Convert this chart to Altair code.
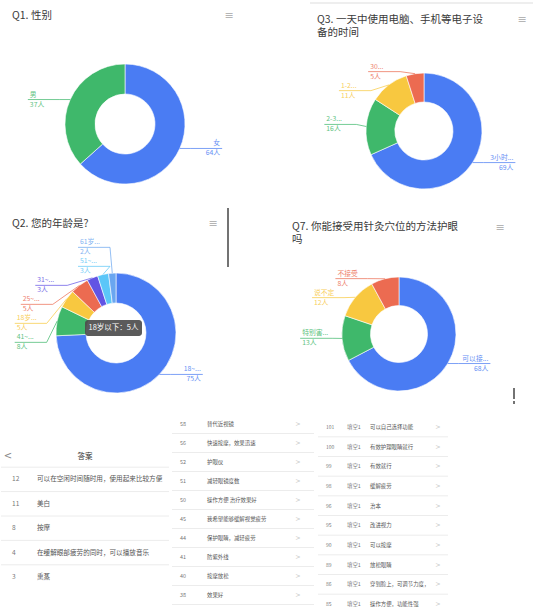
import altair as alt
import pandas as pd
import numpy as np

FONT = "Noto Sans CJK SC"

BLUE, GREEN, YELLOW, RED = "#4a7cf3", "#3fb86b", "#f8c840", "#ec6b51"
PURPLE, LBLUE, SBLUE = "#6254e4", "#5bc6f8", "#6aa6f0"

# ---------------- data ----------------
q1_title = ["Q1. 性别"]
q1_names = ["女", "男"]
q1_values = [64, 37]
q1_colors = [BLUE, GREEN]

q3_title = ["Q3. 一天中使用电脑、手机等电子设", "备的时间"]
q3_names = ["3小时...", "2-3...", "1-2...", "30..."]
q3_values = [69, 16, 11, 5]
q3_colors = [BLUE, GREEN, YELLOW, RED]

q2_title = ["Q2. 您的年龄是?"]
q2_names = ["18~...", "41~...", "18岁...", "25~...", "31~...", "51~...", "61岁..."]
q2_values = [75, 8, 5, 5, 3, 3, 2]
q2_colors = [BLUE, GREEN, YELLOW, RED, PURPLE, LBLUE, SBLUE]
q2_tooltip = "18岁以下：5人"

q7_title = ["Q7. 你能接受用针灸穴位的方法护眼", "吗"]
q7_names = ["可以接...", "特别害...", "说不定", "不接受"]
q7_values = [68, 13, 12, 8]
q7_colors = [BLUE, GREEN, YELLOW, RED]

t1_header = "答案"
t1_nums = ["12", "11", "8", "4", "3"]
t1_texts = ["可以在空闲时间随时用，使用起来比较方便", "美白", "按摩",
            "在缓解眼部疲劳的同时，可以播放音乐", "熏蒸"]

t2_nums = ["58", "56", "52", "51", "50", "45", "44", "41", "40", "38"]
t2_texts = ["替代近视镜", "快速按摩，效果迅速", "护眼仪", "减轻眼镜度数", "操作方便 治疗效果好",
            "我希望能够缓解视觉疲劳", "保护眼睛，减轻疲劳", "防紫外线", "按摩放松", "效果好"]

t3_nums = ["101", "100", "99", "98", "96", "95", "90", "89", "86", "85"]
t3_tags = ["填空1"] * 10
t3_texts = ["可以自己选择功能", "有效护理眼睛就行", "有效就行", "缓解疲劳", "治本",
            "改进视力", "可以按摩", "放松眼睛", "穿到脸上，可调节力度，", "操作方便，功能性强"]


# ---------------- helpers ----------------
def one(v):
    return pd.DataFrame({"t": [v]})


def text_at(s, x, y, size=10.5, color="#3a3a3a", align="left", font=FONT, weight="normal"):
    return alt.Chart(one(s)).mark_text(
        align=align, baseline="middle", fontSize=size, font=font, color=color, fontWeight=weight
    ).encode(text="t:N", x=alt.value(x), y=alt.value(y))


def vrule(x, y1, y2, color="#444", w=1.5):
    return alt.Chart(one(0)).mark_rule(color=color, strokeWidth=w).encode(
        x=alt.value(x), y=alt.value(y1), y2=alt.value(y2))


def hrule(x1, x2, y, color="#eee", w=1.5):
    return alt.Chart(one(0)).mark_rule(color=color, strokeWidth=w).encode(
        x=alt.value(x1), x2=alt.value(x2), y=alt.value(y))


def label_layout(names, values, colors, cx, cy, r, gap=19.0, balance=0.8, L2=6, W=32):
    v = np.asarray(values, float)
    tot = v.sum()
    mid = (np.cumsum(v) - v / 2) / tot * 2 * np.pi
    nat = cy - r * np.cos(mid)
    side = np.where(np.sin(mid) >= 0, 1, -1)
    ly = nat.copy()
    for s in (1, -1):
        idx = sorted([i for i in range(len(v)) if side[i] == s], key=lambda i: nat[i])
        if len(idx) < 2:
            continue
        last = -1e9
        pushed = []
        for i in idx:
            y = max(nat[i], last + gap)
            pushed.append(y)
            last = y
        pushed = np.array(pushed)
        shifts = pushed - nat[idx]
        ly[idx] = pushed - balance * shifts.mean()
    dy = ly - cy
    off = np.sqrt(np.clip((r + 4) ** 2 - dy ** 2, 0, None))
    xin = cx + side * (off + L2)
    xout = xin + side * W
    return pd.DataFrame(dict(
        name=names, col=colors, val=[f"{int(x)}人" for x in values], side=side,
        x0=cx + r * np.sin(mid), y0=cy - r * np.cos(mid),
        xin=xin, xout=xout, ly=ly, tx=xout - side * 2, ny=ly - 5, vy=ly + 5))


def px(field):
    return alt.X(field, type="quantitative", scale=None, axis=None)


def py(field):
    return alt.Y(field, type="quantitative", scale=None, axis=None)


COLOR = alt.Color("col:N", scale=None, legend=None)


def donut(names, values, colors, cx, cy, r, title, tx, ty, menu, lh=13):
    df = pd.DataFrame({"name": names, "value": values, "col": colors,
                       "idx": list(range(len(names)))})
    arcs = alt.Chart(df).mark_arc(innerRadius=r * 0.5, outerRadius=r, stroke="#ffffff",
                                  strokeWidth=0.6).encode(
        theta=alt.Theta("value:Q", stack=True), color=COLOR,
        order=alt.Order("idx:Q", sort="ascending"), x=alt.value(cx), y=alt.value(cy))
    lab = label_layout(names, values, colors, cx, cy, r)
    base = alt.Chart(lab)
    leader = base.mark_rule(strokeWidth=0.9, opacity=0.8).encode(
        x=px("x0"), y=py("y0"), x2="xin:Q", y2="ly:Q", color=COLOR)
    hr = base.mark_rule(strokeWidth=0.9, opacity=0.8).encode(
        x=px("xin"), x2="xout:Q", y=py("ly"), color=COLOR)
    texts = []
    for s, al in ((1, "right"), (-1, "left")):
        sub = base.transform_filter(f"datum.side == {s}")
        texts.append(sub.mark_text(align=al, baseline="middle", fontSize=6.8, font=FONT,
                                   opacity=0.85).encode(x=px("tx"), y=py("ny"), text="name:N", color=COLOR))
        texts.append(sub.mark_text(align=al, baseline="middle", fontSize=6.8, font=FONT,
                                   opacity=0.85).encode(x=px("tx"), y=py("vy"), text="val:N", color=COLOR))
    layers = [arcs, leader, hr] + texts
    for k, line in enumerate(title):
        layers.append(text_at(line, tx, ty + lh * k))
    layers.append(text_at("≡", menu[0], menu[1], size=11, color="#b5b5b5", align="center",
                          font="DejaVu Sans"))
    return layers


# ---------------- panels ----------------
q1 = alt.layer(*donut(q1_names, q1_values, q1_colors, 125, 124, 60, q1_title, 12, 16,
                      (229, 16))).properties(width=267, height=200)

q3_layers = donut(q3_names, q3_values, q3_colors, 157, 131, 58, q3_title, 50, 20, (255, 20))
q3_layers.insert(0, hrule(43, 266, 3, color="#eeeeee", w=2))
q3 = alt.layer(*q3_layers).properties(width=267, height=200)

q2_layers = donut(q2_names, q2_values, q2_colors, 116, 133, 60, q2_title, 12, 24, (213, 24))
q2_layers.append(alt.Chart(one(0)).mark_rect(color="#4d4d4d", opacity=0.92, cornerRadius=3).encode(
    x=alt.value(85), x2=alt.value(142), y=alt.value(120), y2=alt.value(136)))
q2_layers.append(text_at(q2_tooltip, 113.5, 128, size=7.5, color="#ffffff", align="center"))
q2_layers.append(vrule(228, 8, 67))
q2 = alt.layer(*q2_layers).properties(width=267, height=200)

q7_layers = donut(q7_names, q7_values, q7_colors, 132, 134, 57, q7_title, 25, 27, (233, 28), lh=13)
q7_layers.append(vrule(247, 188, 199))
q7 = alt.layer(*q7_layers).properties(width=267, height=200)


def table(nums, texts, domain, rng, num_x, text_x, sep_x, size, chevron_x=None, tags=None, tag_x=None,
          seps=None, num_size=None):
    n = len(nums)
    df = pd.DataFrame({"pos": list(range(n)), "num": nums, "txt": texts})
    if tags is not None:
        df["tag"] = tags
    ysc = alt.Scale(domain=domain, range=rng, nice=False, zero=False)
    Y = alt.Y("pos:Q", scale=ysc, axis=None)
    layers = []
    sep_df = pd.DataFrame({"pos": seps})
    layers.append(alt.Chart(sep_df).mark_rule(color="#ececec", strokeWidth=1).encode(
        y=Y, x=alt.value(sep_x[0]), x2=alt.value(sep_x[1])))
    base = alt.Chart(df)
    layers.append(base.mark_text(align="left", baseline="middle", fontSize=num_size or size,
                                 font=FONT, color="#777").encode(y=Y, x=alt.value(num_x), text="num:N"))
    if tags is not None:
        layers.append(base.mark_text(align="left", baseline="middle", fontSize=size, font=FONT,
                                     color="#777").encode(y=Y, x=alt.value(tag_x), text="tag:N"))
    layers.append(base.mark_text(align="left", baseline="middle", fontSize=size, font=FONT,
                                 color="#555").encode(y=Y, x=alt.value(text_x), text="txt:N"))
    if chevron_x is not None:
        layers.append(base.mark_text(align="center", baseline="middle", fontSize=size + 1,
                                     font="DejaVu Sans", color="#c4c4c4").encode(
            y=Y, x=alt.value(chevron_x), text=alt.value(">")))
    return layers


t1_layers = table(t1_nums, t1_texts, [-1, 4], [55, 177], 12, 37, (1, 169), 6.6,
                  seps=[-0.5, 0.5, 1.5, 2.5, 3.5])
t1_layers.append(text_at("<", 8, 56, size=10, color="#888", align="center", font="DejaVu Sans"))
t1_layers.append(text_at(t1_header, 85, 57, size=7.5, color="#333", align="center"))
t1 = alt.layer(*t1_layers).properties(width=170, height=207)

t2_layers = table(t2_nums, t2_texts, [0, 9], [24, 195], 10, 37, (2, 144), 5.4, chevron_x=128,
                  seps=[i + 0.5 for i in range(10)])
t2 = alt.layer(*t2_layers).properties(width=145, height=207)

t3_layers = table(t3_nums, t3_texts, [0, 9], [27, 204], 11, 55, (3, 133), 5.4, chevron_x=123,
                  tags=t3_tags, tag_x=32, seps=[i + 0.5 for i in range(9)], num_size=5)
t3_layers.append(vrule(199, 1, 4))
t3 = alt.layer(*t3_layers).properties(width=219, height=207)

row1 = alt.hconcat(q1, q3, spacing=0, bounds="flush")
row2 = alt.hconcat(q2, q7, spacing=0, bounds="flush")
row3 = alt.hconcat(t1, t2, t3, spacing=0, bounds="flush")

chart = alt.vconcat(row1, row2, row3, spacing=0).properties(
    padding=0, background="#ffffff"
).configure_view(stroke=None)

chart.save("out.html", embed_options={"renderer": "svg", "actions": False})
